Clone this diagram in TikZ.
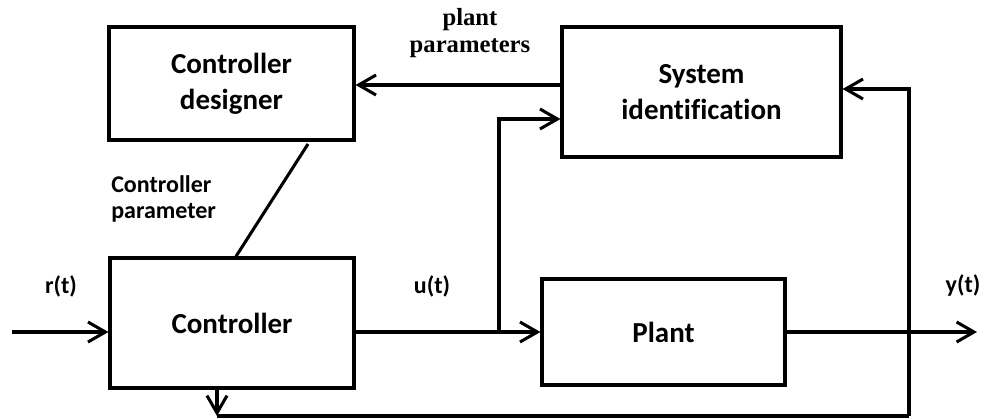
\documentclass[tikz,border=0pt]{standalone}
\usepackage{fontspec}
\setmainfont{Carlito}[Ligatures=NoCommon]
\newfontfamily\tnr{Liberation Serif}
\usetikzlibrary{arrows.meta}
\begin{document}
\begin{tikzpicture}[x=0.75pt,y=-0.75pt,
  blk/.style={draw,line width=2.4pt,inner sep=0pt,align=center,
    font=\fontsize{21.75}{27}\selectfont\bfseries},
  wire/.style={line width=2.3pt},
  arr/.style={wire,-{Straight Barb[length=13pt,width=15pt,line width=2.3pt]}},
  lbl/.style={font=\fontsize{18}{19.5}\selectfont\bfseries,inner sep=0pt,align=left},
  slbl/.style={font=\fontsize{18.5}{20}\selectfont\tnr\bfseries,inner sep=0pt,align=center}]
\useasboundingbox (0,0) rectangle (984,418);
% blocks
\node[blk,minimum width=183.75pt,minimum height=84.75pt] (designer) at (231.5,83.5) {Controller\\designer};
\node[blk,minimum width=183pt,minimum height=97.5pt] (ctrl) at (232,323) {Controller};
\node[blk,minimum width=209.25pt,minimum height=97.5pt] (sysid) at (701.5,92) {System\\identification};
\node[blk,minimum width=182.25pt,minimum height=79.5pt] (plant) at (663.5,332) {Plant};
% helper coordinates
\coordinate (h85) at (0,85);
\coordinate (h119) at (0,119);
\coordinate (h89) at (0,89);
\coordinate (rin) at (12,332);
\coordinate (br) at (499,332);
\coordinate (yout) at (977,332);
\coordinate (cp1) at (308,144);
\coordinate (cp2) at (236,258);
\coordinate (fbl) at (217,416);
\coordinate (fbx) at (909,416);
% connectors
\draw[arr] (rin) -- (rin -| ctrl.west);
\draw[arr] (plant.west -| ctrl.east) -- (plant.west);
\draw[arr] (br) |- (sysid.west |- h119);
\draw[arr] (sysid.west |- h85) -- (designer.east |- h85);
\draw[wire] (cp1) -- (cp2 |- ctrl.north);
\draw[arr] (plant.east) -- (yout);
\draw[arr] (fbx) |- (sysid.east |- h89);
\draw[wire] (fbx) -- (fbl);
\draw[arr] (fbl |- ctrl.south) -- (fbl);
% labels
\node[lbl] (lr) at (61,286) {r(t)};
\node[lbl] (lu) at (432,286) {u(t)};
\node[lbl] (ly) at (963,285) {y(t)};
\node[lbl,anchor=west] (lcp) at (111,199) {Controller\\parameter};
\node[slbl] (lpp) at (470,33) {plant\\parameters};
\end{tikzpicture}
\end{document}
